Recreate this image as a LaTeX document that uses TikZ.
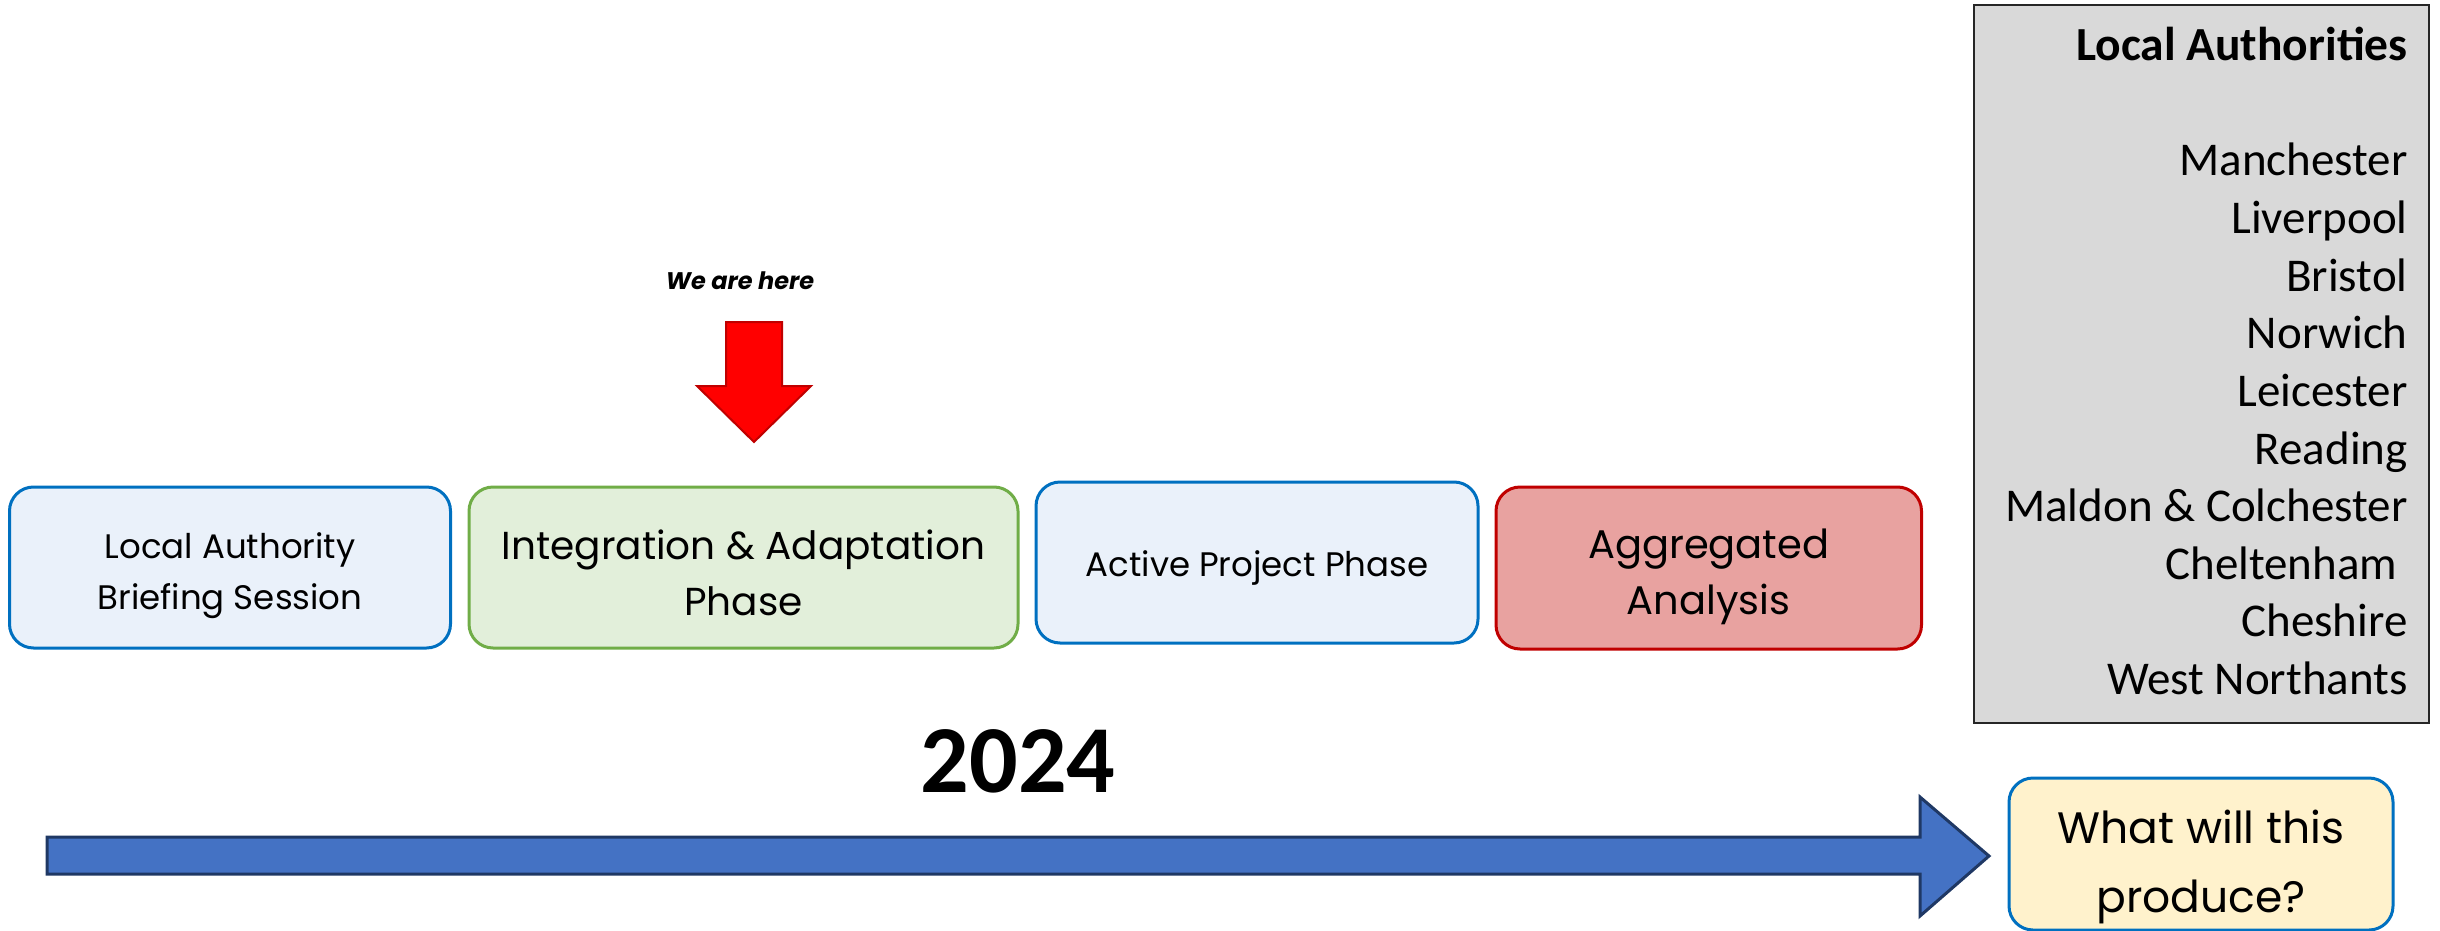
\documentclass[tikz,border=0pt]{standalone}
\usepackage{fontspec}
\setmainfont{Carlito}
\newfontfamily\fut{Poppins}
\definecolor{lblue}{HTML}{EAF1FA}
\definecolor{bblue}{HTML}{0070C0}
\definecolor{lgreen}{HTML}{E2EFDA}
\definecolor{bgreen}{HTML}{70AD47}
\definecolor{lred}{HTML}{E8A2A0}
\definecolor{bred}{HTML}{C00000}
\definecolor{lyellow}{HTML}{FFF2CC}
\definecolor{lgray}{HTML}{D9D9D9}
\definecolor{bgray}{HTML}{262626}
\definecolor{arrblue}{HTML}{4472C4}
\definecolor{arrnavy}{HTML}{1F3864}
\tikzset{
  phase/.style={draw, line width=1.5pt, rounded corners=12pt, inner sep=0pt},
  ptext/.style={align=center, inner sep=0pt},
  cityname/.style={anchor=base east, inner sep=0pt, font=\fontsize{23.5}{29}\selectfont},
}
\begin{document}
\begin{tikzpicture}[x=0.5pt,y=-0.5pt]
\useasboundingbox (0,0) rectangle (2440,931);
% phases
\node[phase, draw=bblue, fill=lblue, minimum width=220.5pt, minimum height=80.5pt] (p1) at (230,567.5) {};
\node[ptext, font=\fut\fontsize{17}{25.5}\selectfont, yshift=-4pt] (p1t) at (p1) {Local Authority\\Briefing Session};
\node[phase, draw=bgreen, fill=lgreen, minimum width=274.5pt, minimum height=80.5pt] (p2) at (743.5,567.5) {};
\node[ptext, font=\fut\fontsize{19.5}{28}\selectfont, yshift=-2.5pt] (p2t) at (p2) {Integration \& Adaptation\\Phase};
\node[phase, draw=bblue, fill=lblue, minimum width=221pt, minimum height=80.5pt] (p3) at (1257,562.5) {};
\node[ptext, font=\fut\fontsize{17}{25.5}\selectfont, yshift=-2.5pt] (p3t) at (p3) {Active Project Phase};
\node[phase, draw=bred, fill=lred, minimum width=212.75pt, minimum height=81pt] (p4) at (1708.75,568) {};
\node[ptext, font=\fut\fontsize{20}{28}\selectfont, yshift=-4.5pt] (p4t) at (p4) {Aggregated\\Analysis};
% output box
\node[phase, draw=bblue, fill=lyellow, minimum width=192pt, minimum height=76pt] (out) at (2201,854) {};
\node[ptext, font=\fut\fontsize{22}{34.5}\selectfont, yshift=-6.5pt] (outt) at (out) {What will this\\produce?};
% authorities box
\node[draw=bgray, line width=1pt, fill=lgray, minimum width=227.5pt, minimum height=359pt, inner sep=0pt] (la) at (2201.5,364) {};
\node[anchor=base east, inner sep=0pt, font=\bfseries\fontsize{23.75}{29}\selectfont] (lah) at (2408,61) {Local Authorities};
\foreach \name [count=\i] in {Manchester,Liverpool,Bristol,Norwich,Leicester,Reading,Maldon \& Colchester,Cheltenham\hspace*{0.22em},Cheshire,West Northants}{
  \node[cityname] (c\i) at (2408,{176+57.6*(\i-1)}) {\name};
}
% we are here
\node[font=\fut\bfseries\itshape\fontsize{12}{14}\selectfont, inner sep=0pt] (here) at (740,281) {We are here};
\draw[fill=red, draw=bred, line width=1pt, line join=miter]
  (726,322) -- (782,322) -- (782,386) -- (811,386) -- (754,442) -- (697,386) -- (726,386) -- cycle;
% year
\node[font=\bfseries\fontsize{48}{50}\selectfont, anchor=base, inner sep=0pt] (year) at (1018,792) {2024};
% timeline arrow
\draw[fill=arrblue, draw=arrnavy, line width=1.5pt, line join=miter]
  (47,837) -- (1920,837) -- (1920,797) -- (1989,856) -- (1920,916) -- (1920,874) -- (47,874) -- cycle;
\end{tikzpicture}
\end{document}
